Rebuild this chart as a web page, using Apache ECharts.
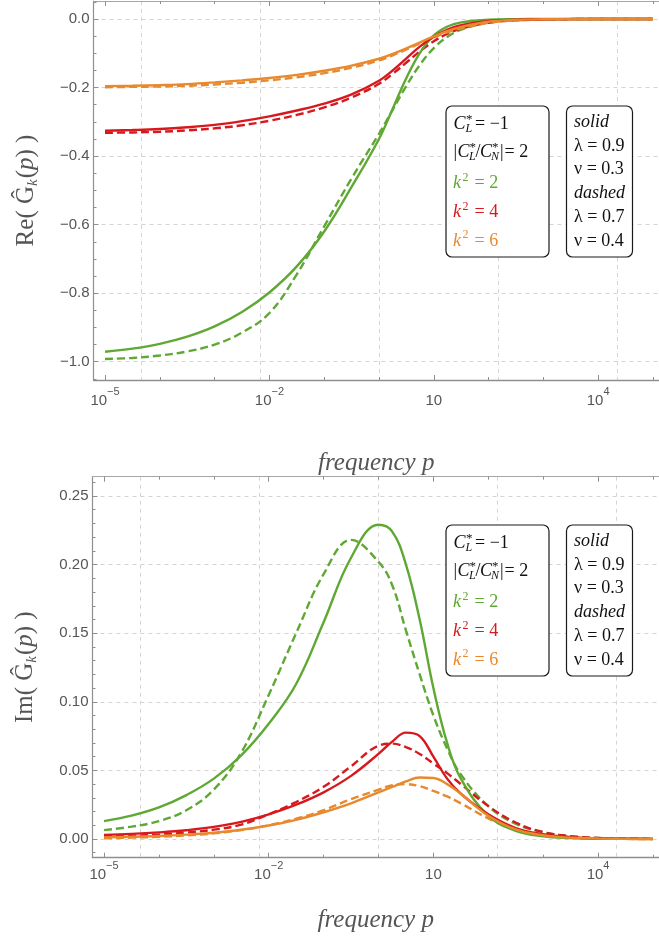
<!DOCTYPE html>
<html>
<head>
<meta charset="utf-8">
<script src="https://cdn.jsdelivr.net/npm/echarts/dist/echarts.min.js"></script>
<style>
  html, body { margin: 0; padding: 0; background: #fff; }
  #chart { width: 659px; height: 938px; }
</style>
</head>
<body>
<div id="chart"></div>
<script>
// Sample frequencies, stored as log10(p)
const logP = [-5, -4.5, -4, -3.5, -3, -2.5, -2, -1.5, -1, -0.5, 0, 0.25, 0.5, 0.75, 1, 1.25, 1.5, 2, 2.5, 3, 3.5, 4, 4.5, 5];

// Re(G_k(p))
const reK2Solid = [-0.971, -0.962, -0.948, -0.927, -0.897, -0.855, -0.798, -0.722, -0.620, -0.490, -0.350, -0.262, -0.172, -0.098, -0.048, -0.022, -0.010, -0.002, -0.0005, 0, 0, 0, 0, 0];
const reK2Dashed = [-0.992, -0.989, -0.982, -0.970, -0.950, -0.915, -0.858, -0.745, -0.605, -0.465, -0.335, -0.265, -0.195, -0.133, -0.085, -0.052, -0.031, -0.010, -0.003, -0.001, -0.0003, 0, 0, 0];
const reK4Solid = [-0.326, -0.324, -0.321, -0.316, -0.309, -0.298, -0.284, -0.267, -0.247, -0.220, -0.180, -0.150, -0.115, -0.080, -0.052, -0.031, -0.018, -0.006, -0.002, -0.0006, -0.0002, 0, 0, 0];
const reK4Dashed = [-0.332, -0.331, -0.329, -0.325, -0.319, -0.310, -0.297, -0.280, -0.258, -0.229, -0.189, -0.160, -0.127, -0.094, -0.065, -0.043, -0.028, -0.011, -0.004, -0.0015, -0.0005, -0.0002, -0.0001, 0];
const reK6Solid = [-0.196, -0.195, -0.193, -0.190, -0.185, -0.179, -0.172, -0.163, -0.151, -0.136, -0.116, -0.102, -0.086, -0.068, -0.051, -0.035, -0.023, -0.008, -0.0025, -0.0008, -0.0002, 0, 0, 0];
const reK6Dashed = [-0.199, -0.198, -0.197, -0.195, -0.191, -0.186, -0.179, -0.170, -0.158, -0.142, -0.121, -0.106, -0.089, -0.071, -0.054, -0.039, -0.027, -0.011, -0.004, -0.0012, -0.0003, 0, 0, 0];

// Im(G_k(p))
const imK2Solid = [0.013, 0.017, 0.023, 0.032, 0.044, 0.061, 0.084, 0.113, 0.158, 0.205, 0.229, 0.224, 0.200, 0.160, 0.110, 0.070, 0.044, 0.017, 0.006, 0.002, 0.0007, 0.0002, 0.0001, 0];
const imK2Dashed = [0.0065, 0.009, 0.013, 0.021, 0.036, 0.063, 0.105, 0.150, 0.193, 0.218, 0.202, 0.185, 0.152, 0.120, 0.090, 0.066, 0.047, 0.024, 0.011, 0.005, 0.002, 0.0007, 0.0002, 0.0001];
const imK4Solid = [0.003, 0.0037, 0.0048, 0.0064, 0.0088, 0.0125, 0.018, 0.025, 0.034, 0.046, 0.062, 0.071, 0.0775, 0.075, 0.060, 0.044, 0.033, 0.018, 0.008, 0.0035, 0.0014, 0.0005, 0.0002, 0.0001];
const imK4Dashed = [0.0018, 0.0024, 0.0033, 0.0047, 0.0068, 0.0105, 0.018, 0.027, 0.038, 0.053, 0.068, 0.0695, 0.067, 0.062, 0.055, 0.048, 0.040, 0.024, 0.012, 0.005, 0.002, 0.0008, 0.0003, 0.0001];
const imK6Solid = [0.0012, 0.0016, 0.0022, 0.0032, 0.0046, 0.0067, 0.0098, 0.014, 0.0195, 0.026, 0.034, 0.038, 0.042, 0.0448, 0.0445, 0.040, 0.033, 0.017, 0.007, 0.0027, 0.001, 0.0004, 0.0001, 0];
const imK6Dashed = [0.0006, 0.0010, 0.0016, 0.0026, 0.0041, 0.0065, 0.0100, 0.0148, 0.021, 0.029, 0.036, 0.0392, 0.0400, 0.0385, 0.035, 0.031, 0.026, 0.015, 0.007, 0.003, 0.0012, 0.0004, 0.0001, 0];

// Axis ticks
const xMajorTicks = [-5, -2, 1, 4];
const xGridLines = [-4.34, -2.17, 0, 2.17, 4.34];
const reTicks = [-1, -0.8, -0.6, -0.4, -0.2, 0];
const imTicks = [0, 0.05, 0.1, 0.15, 0.2, 0.25];
const kSquared = [2, 4, 6];

const GREEN = '#5fa833', RED = '#d7191e', ORANGE = '#e8892e';
const SERIF = "'Liberation Serif', 'DejaVu Serif', serif";
const SANS = "'Liberation Sans', Arial, sans-serif";
const AXIS_GREY = '#8f8f8f';
const FRAME_GREY = '#a6a6a6';
const LABEL_GREY = '#555';
const GRID_DASH = { type: [4, 4], color: '#d4d4d4', width: 1 };

// the frame's right edge lies just past the canvas, so the visible range ends short of 10^5.2
const X_MIN = -5.21, X_MAX = 5.11;

function range(from, to, step, skip) {
  const out = [];
  for (let v = from; v <= to + 1e-9; v += step) {
    const r = +v.toFixed(4);
    if (!skip.some(s => Math.abs(s - r) < 1e-6)) out.push(r);
  }
  return out;
}
const xMinorTicks = range(-5, 5, 1, xMajorTicks);

function decadeLabel(v) {
  if (v === 1) return '{b|10}';
  return '{b|10}{s|' + (v < 0 ? '−' : '') + Math.abs(v) + '}';
}
function signed(v, digits) {
  if (Math.abs(v) < 1e-9) return (0).toFixed(digits);
  return (v < 0 ? '−' : '') + Math.abs(v).toFixed(digits);
}

function xAxesFor(g, labelMargin, nameGap) {
  const base = {
    type: 'value', gridIndex: g, min: X_MIN, max: X_MAX,
    axisLine: { show: false, onZero: false }, axisLabel: { show: false },
    axisTick: { show: false }, splitLine: { show: false }
  };
  const tickStyle = { color: AXIS_GREY, width: 1 };
  return [
    Object.assign({}, base, {
      position: 'bottom',
      axisLine: { show: true, onZero: false, lineStyle: { color: AXIS_GREY, width: 1.4 } },
      axisTick: { show: true, inside: true, length: 5, customValues: xMajorTicks, lineStyle: tickStyle },
      axisLabel: {
        show: true, customValues: xMajorTicks, formatter: decadeLabel, margin: labelMargin,
        rich: {
          b: { fontFamily: SANS, fontSize: 15, color: LABEL_GREY, lineHeight: 22, verticalAlign: 'bottom' },
          s: { fontFamily: SANS, fontSize: 11, color: LABEL_GREY, lineHeight: 14, verticalAlign: 'top' }
        }
      },
      name: 'frequency p', nameLocation: 'middle', nameGap,
      nameTextStyle: { fontFamily: SERIF, fontStyle: 'italic', fontSize: 25, color: LABEL_GREY }
    }),
    Object.assign({}, base, {
      position: 'bottom',
      axisTick: { show: true, inside: true, length: 3, customValues: xMinorTicks, lineStyle: tickStyle }
    }),
    Object.assign({}, base, {
      position: 'top',
      axisLine: { show: true, onZero: false, lineStyle: { color: FRAME_GREY, width: 1 } },
      axisTick: { show: true, inside: true, length: 5, customValues: xMajorTicks, lineStyle: tickStyle }
    }),
    Object.assign({}, base, {
      position: 'top',
      axisTick: { show: true, inside: true, length: 3, customValues: xMinorTicks, lineStyle: tickStyle }
    }),
    Object.assign({}, base, {
      position: 'bottom',
      axisTick: { show: false, customValues: xGridLines },
      splitLine: { show: true, lineStyle: GRID_DASH }
    })
  ];
}

function yAxesFor(g, min, max, major, minor, digits, nameRich) {
  const tickStyle = { color: AXIS_GREY, width: 1 };
  return [
    {
      type: 'value', gridIndex: g, position: 'left', min, max,
      axisLine: { show: true, onZero: false, lineStyle: { color: AXIS_GREY, width: 1.2 } },
      axisTick: { show: true, inside: true, length: 5, customValues: major, lineStyle: tickStyle },
      axisLabel: {
        customValues: major, margin: 4, fontFamily: SANS, fontSize: 15, color: LABEL_GREY,
        formatter: v => signed(v, digits)
      },
      splitLine: { show: true, lineStyle: GRID_DASH },
      name: nameRich, nameLocation: 'middle', nameRotate: 90, nameGap: 53,
      nameTextStyle: {
        rich: {
          a: { fontFamily: SERIF, fontSize: 25, color: LABEL_GREY, lineHeight: 28, verticalAlign: 'middle' },
          k: { fontFamily: SERIF, fontStyle: 'italic', fontSize: 15, color: LABEL_GREY, lineHeight: 28, verticalAlign: 'bottom', padding: [0, 1, 0, 0] },
          i: { fontFamily: SERIF, fontStyle: 'italic', fontSize: 25, color: LABEL_GREY, lineHeight: 28, verticalAlign: 'middle' }
        }
      }
    },
    {
      type: 'value', gridIndex: g, position: 'left', min, max,
      axisLine: { show: false, onZero: false },
      axisTick: { show: true, inside: true, length: 3, customValues: minor, lineStyle: tickStyle },
      axisLabel: { show: false },
      splitLine: { show: false }
    }
  ];
}

const reMinor = range(-1.05, 0.05, 0.05, reTicks);
const imMinor = range(-0.01, 0.26, 0.01, imTicks);

function pairs(ys) { return logP.map((x, i) => [x, ys[i]]); }

function curve(name, ys, color, dashed, xIdx, yIdx) {
  return {
    name, type: 'line', xAxisIndex: xIdx, yAxisIndex: yIdx,
    data: pairs(ys), showSymbol: false, smooth: 0.4,
    lineStyle: { color, width: 2.4, type: dashed ? [8, 4] : 'solid' },
    z: dashed ? 3 : 4, silent: true
  };
}

// Legend boxes (one pair per panel)
function txt(x, y, text, o) {
  o = o || {};
  return {
    type: 'text', x, y, z: 101,
    style: {
      text, fill: o.fill || '#111',
      font: (o.italic ? 'italic ' : '') + (o.size || 18) + 'px ' + SERIF,
      align: 'left', verticalAlign: 'middle'
    }
  };
}
function box(x, y, w, h) {
  return {
    type: 'rect', z: 100,
    shape: { x, y, width: w, height: h, r: 6 },
    style: { fill: '#fff', stroke: '#1a1a1a', lineWidth: 1.2 }
  };
}
function legendFor(dy) {
  const els = [box(446, 106 + dy, 103, 151), box(566.5, 106 + dy, 66, 151)];
  let y = 124 + dy;
  els.push(txt(453.5, y, 'C', { italic: true }), txt(466, y - 4, '*', { size: 13 }),
           txt(465.5, y + 5, 'L', { italic: true, size: 12 }), txt(475, y, '= −1'));
  y = 152 + dy;
  els.push(txt(453.5, y, '|'), txt(457.5, y, 'C', { italic: true }), txt(469.5, y - 4, '*', { size: 13 }),
           txt(469, y + 5, 'L', { italic: true, size: 12 }), txt(475.5, y, '/'),
           txt(480, y, 'C', { italic: true }), txt(492, y - 4, '*', { size: 13 }),
           txt(491, y + 5, 'N', { italic: true, size: 12 }), txt(500, y, '|'), txt(504.5, y, '= 2'));
  const colors = [GREEN, RED, ORANGE];
  const rows = [183.5, 212.5, 241];
  kSquared.forEach((k, i) => {
    const yy = rows[i] + dy;
    els.push(txt(453, yy, 'k', { italic: true, fill: colors[i] }),
             txt(462.5, yy - 6, '2', { size: 12, fill: colors[i] }),
             txt(474.5, yy, '= ' + k, { fill: colors[i] }));
  });
  const right = [['solid', true], ['λ = 0.9'], ['ν = 0.3'], ['dashed', true], ['λ = 0.7'], ['ν = 0.4']];
  const ry = [122.5, 146, 169.5, 193, 217, 241];
  right.forEach((r, i) => els.push(txt(574, ry[i] + dy, r[0], { italic: !!r[1] })));
  return els;
}

const reName = '{a|Re( Ĝ}{k|k}{a|(}{i|p}{a|) )}';
const imName = '{a|Im( Ĝ}{k|k}{a|(}{i|p}{a|) )}';

const xAxes = xAxesFor(0, 6.5, 71).concat(xAxesFor(1, 3, 50));
const yAxes = yAxesFor(0, -1.0534, 0.0525, reTicks, reMinor, 1, reName)
  .concat(yAxesFor(1, -0.01363, 0.26407, imTicks, imMinor, 2, imName));

const X0 = 0, X1 = 5, Y0 = 0, Y1 = 2;
const series = [
  curve('Re k2 solid', reK2Solid, GREEN, false, X0, Y0),
  curve('Re k4 solid', reK4Solid, RED, false, X0, Y0),
  curve('Re k6 solid', reK6Solid, ORANGE, false, X0, Y0),
  curve('Re k2 dashed', reK2Dashed, GREEN, true, X0, Y0),
  curve('Re k4 dashed', reK4Dashed, RED, true, X0, Y0),
  curve('Re k6 dashed', reK6Dashed, ORANGE, true, X0, Y0),
  curve('Im k2 solid', imK2Solid, GREEN, false, X1, Y1),
  curve('Im k4 solid', imK4Solid, RED, false, X1, Y1),
  curve('Im k6 solid', imK6Solid, ORANGE, false, X1, Y1),
  curve('Im k2 dashed', imK2Dashed, GREEN, true, X1, Y1),
  curve('Im k4 dashed', imK4Dashed, RED, true, X1, Y1),
  curve('Im k6 dashed', imK6Dashed, ORANGE, true, X1, Y1)
];

const chart = echarts.init(document.getElementById('chart'), null, { renderer: 'canvas' });
chart.setOption({
  animation: false,
  backgroundColor: '#fff',
  grid: [
    { left: 93.5, top: 1, right: 0, height: 379, show: false, outerBoundsMode: 'none' },
    { left: 92.5, top: 476.7, right: 0, height: 381, show: false, outerBoundsMode: 'none' }
  ],
  xAxis: xAxes,
  yAxis: yAxes,
  series,
  graphic: legendFor(0).concat(legendFor(419))
});
</script>
</body>
</html>
